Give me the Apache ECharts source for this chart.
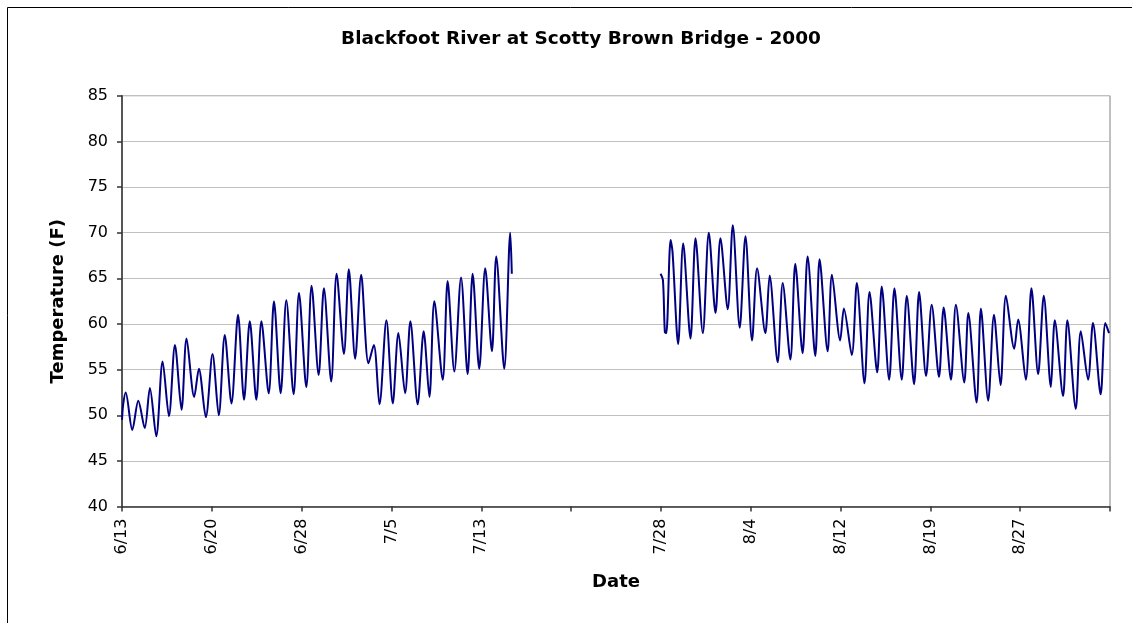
<!DOCTYPE html>
<html>
<head>
<meta charset="utf-8">
<script src="https://cdn.jsdelivr.net/npm/echarts@6/dist/echarts.min.js"></script>
<style>
  html, body { margin: 0; padding: 0; background: #fff; }
  #chart { width: 1132px; height: 623px; }
</style>
</head>
<body>
<div id="chart"></div>
<script>
// Day offsets since 6/13 (x) and water temperature in °F (y), read from daily highs/lows
const daysJune = [0.0, 0.1, 0.31, 0.86, 1.36, 1.9, 2.33, 2.86, 3.39, 3.92, 4.42, 4.97, 5.39, 6.03, 6.42, 7.0, 7.56, 8.08, 8.58, 9.14, 9.69, 10.19, 10.67, 11.22, 11.64, 12.25, 12.69, 13.25, 13.72, 14.33, 14.78, 15.39, 15.83, 16.42, 16.86, 17.47, 17.92, 18.53, 18.94, 19.47, 19.97, 20.58, 21.03, 21.5, 22.08, 22.61, 23.08, 23.64, 24.08, 24.69, 25.19, 25.67, 26.08, 26.78, 27.19, 27.75, 28.31, 28.86, 29.28, 29.83, 30.33, 30.89, 31.25, 31.92, 32.42, 32.55];
const tempsJune = [49.5, 51.2, 52.5, 48.4, 51.6, 48.6, 53.0, 47.7, 55.9, 49.9, 57.7, 50.6, 58.4, 52.0, 55.1, 49.8, 56.7, 50.0, 58.8, 51.3, 61.0, 51.7, 60.3, 51.7, 60.3, 52.4, 62.5, 52.4, 62.6, 52.3, 63.4, 53.1, 64.2, 54.4, 63.9, 53.7, 65.5, 56.7, 66.0, 56.2, 65.4, 55.7, 57.7, 51.2, 60.4, 51.3, 59.0, 52.4, 60.3, 51.2, 59.2, 52.0, 62.5, 53.9, 64.7, 54.8, 65.1, 54.5, 65.5, 55.1, 66.1, 57.0, 67.4, 55.1, 70.0, 65.5];

const daysAug = [44.97, 45.17, 45.33, 45.45, 45.81, 45.97, 46.44, 46.86, 47.47, 47.89, 48.5, 49.0, 49.56, 49.97, 50.58, 51.0, 51.58, 52.06, 52.61, 53.03, 53.72, 54.08, 54.75, 55.17, 55.81, 56.22, 56.83, 57.25, 57.89, 58.25, 58.92, 59.28, 59.97, 60.28, 60.94, 61.36, 62.0, 62.42, 63.06, 63.44, 64.06, 64.5, 65.11, 65.53, 66.14, 66.56, 67.14, 67.61, 68.22, 68.61, 69.22, 69.63, 70.33, 70.67, 71.36, 71.72, 72.33, 72.81, 73.36, 73.81, 74.5, 74.83, 75.47, 75.94, 76.5, 76.97, 77.56, 77.89, 78.58, 78.94, 79.64, 80.06, 80.67, 81.08, 81.72, 82.11, 82.42];
const tempsAug = [65.5, 64.8, 59.1, 59.0, 69.2, 67.9, 57.8, 68.8, 58.4, 69.4, 59.0, 70.0, 61.2, 69.4, 61.6, 70.8, 59.6, 69.6, 58.2, 66.1, 59.0, 65.3, 55.8, 64.5, 56.1, 66.6, 56.8, 67.4, 56.5, 67.1, 57.0, 65.4, 58.2, 61.7, 56.6, 64.5, 53.5, 63.5, 54.7, 64.1, 53.9, 63.9, 53.9, 63.1, 53.4, 63.5, 54.3, 62.1, 54.2, 61.8, 53.9, 62.1, 53.6, 61.2, 51.4, 61.7, 51.6, 61.0, 53.3, 63.1, 57.3, 60.5, 53.9, 63.9, 54.5, 63.1, 53.1, 60.4, 52.1, 60.4, 50.7, 59.2, 53.9, 60.1, 52.3, 60.1, 59.0];

// Category-axis tick labels (every 7.5 days)
const tickLabels = ['6/13', '6/20', '6/28', '7/5', '7/13', '', '7/28', '8/4', '8/12', '8/19', '8/27', ''];
const tickStep = 7.5;

const titleText = 'Blackfoot River at Scotty Brown Bridge - 2000';
const xName = 'Date';
const yName = 'Temperature (F)';

const pairs = (xs, ys) => xs.map((x, i) => [x, ys[i]]);

const chart = echarts.init(document.getElementById('chart'), null, { renderer: 'canvas' });
const FONT = 'DejaVu Sans';
const lineStyle = { color: '#000080', width: 2 };

chart.setOption({
  animation: false,
  backgroundColor: '#ffffff',
  graphic: [{
    type: 'rect',
    shape: { x: 7.5, y: 7.5, width: 1300, height: 800 },
    style: { fill: 'none', stroke: '#000', lineWidth: 1 },
    silent: true, z: -1
  }],
  title: {
    text: titleText,
    left: 576,
    textAlign: 'center',
    top: 25,
    textStyle: { fontFamily: FONT, fontWeight: 'bold', fontSize: 18.5, color: '#000' }
  },
  grid: {
    left: 122, right: 22, top: 95.7, bottom: 116.4,
    show: true, borderColor: '#808080', borderWidth: 1, backgroundColor: '#fff'
  },
  xAxis: {
    type: 'value',
    min: 0, max: tickStep * (tickLabels.length - 1), interval: tickStep,
    name: xName, nameLocation: 'middle', nameGap: 67,
    nameTextStyle: { fontFamily: FONT, fontWeight: 'bold', fontSize: 18, color: '#000' },
    axisLine: { show: true, onZero: false, lineStyle: { color: '#333', width: 1.5 } },
    axisTick: { show: true, length: 5, lineStyle: { color: '#333', width: 1.5 } },
    axisLabel: {
      rotate: 90, margin: 12, fontFamily: FONT, fontSize: 16, color: '#000',
      showMinLabel: true, showMaxLabel: true,
      formatter: v => tickLabels[Math.round(v / tickStep)] || ''
    },
    splitLine: { show: false }
  },
  yAxis: {
    type: 'value',
    min: 40, max: 85, interval: 5,
    name: yName, nameLocation: 'middle', nameGap: 55, nameRotate: 90,
    nameTextStyle: { fontFamily: FONT, fontWeight: 'bold', fontSize: 18, color: '#000' },
    axisLine: { show: true, lineStyle: { color: '#333', width: 1.5 } },
    axisTick: { show: true, length: 5, lineStyle: { color: '#333', width: 1.5 } },
    axisLabel: { margin: 14, fontFamily: FONT, fontSize: 16, color: '#000' },
    splitLine: { show: true, lineStyle: { color: '#c0c0c0', width: 1 } }
  },
  series: [
    { type: 'line', data: pairs(daysJune, tempsJune), showSymbol: false, smooth: 0.3, lineStyle: lineStyle, itemStyle: { color: '#000080' } },
    { type: 'line', data: pairs(daysAug, tempsAug), showSymbol: false, smooth: 0.3, lineStyle: lineStyle, itemStyle: { color: '#000080' } }
  ]
});
</script>
</body>
</html>
